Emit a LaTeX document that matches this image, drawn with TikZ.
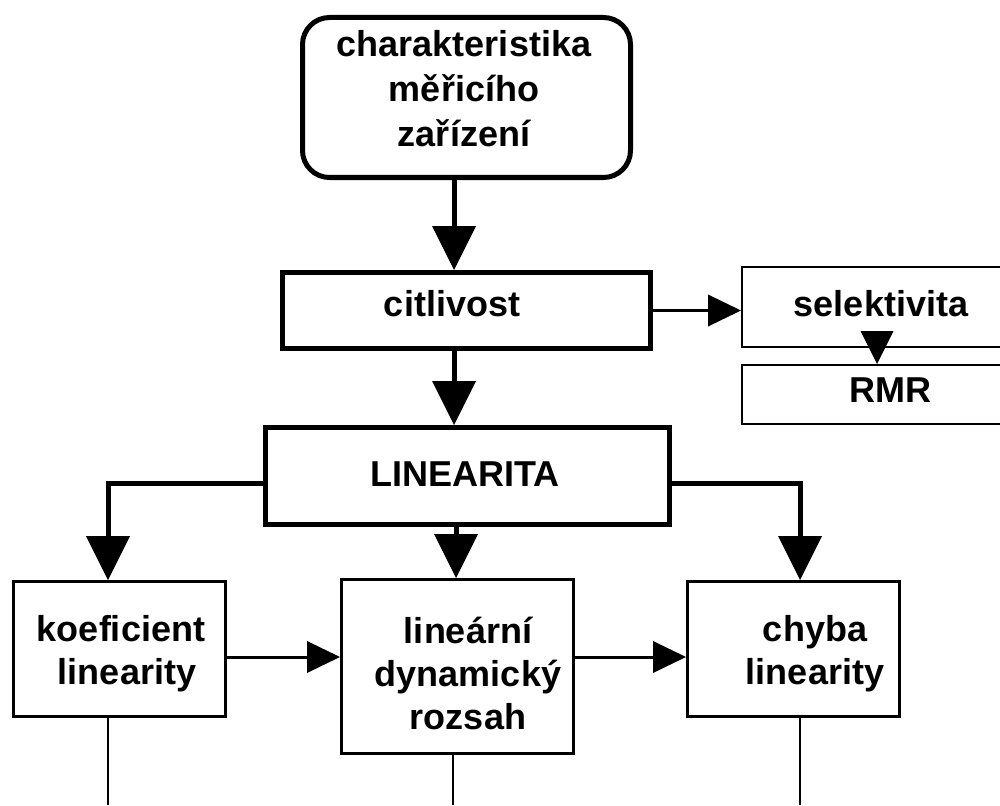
\documentclass[tikz,border=0pt]{standalone}
\usepackage{fontspec}
\setmainfont{Liberation Sans}
\usetikzlibrary{arrows.meta}
\begin{document}
\begin{tikzpicture}[x=1pt,y=-1pt,
  every node/.style={font=\fontsize{36}{43}\selectfont\bfseries, align=center, inner sep=0pt},
  heavybox/.style={draw, line width=5pt, anchor=north west},
  lightbox/.style={draw, line width=2.6pt, anchor=north west},
  label/.style={text=black},
  bigarrow/.style={line width=5pt, -{Triangle[length=44pt,width=44pt,line width=0pt]}},
  thinarrow/.style={line width=3pt, -{Triangle[length=33pt,width=32pt,line width=0pt]}},
  lead/.style={line width=2.6pt}]
\useasboundingbox (0,0) rectangle (1000,805);

% boxes
\node[heavybox, rounded corners=27pt, minimum width=328pt, minimum height=160pt] (top) at (300,15) {};
\node[heavybox, minimum width=368pt, minimum height=76pt] (cit) at (280,270) {};
\node[lightbox, line width=2.2pt, minimum width=280pt, minimum height=80pt] (sel) at (741,266) {};
\node[lightbox, line width=2.2pt, minimum width=280pt, minimum height=59pt] (rmr) at (741,364) {};
\node[heavybox, minimum width=404pt, minimum height=97pt] (lin) at (263,425) {};
\node[lightbox, minimum width=212pt, minimum height=135pt] (kof) at (12,580) {};
\node[lightbox, minimum width=232pt, minimum height=174pt] (ldr) at (340,578) {};
\node[lightbox, minimum width=212pt, minimum height=135pt] (chy) at (686,580) {};

% texts
\node[label, font=\fontsize{36}{45}\selectfont\bfseries] (tTop) at (464,89) {charakteristika\\měřicího\\zařízení};
\node[label] (tCit) at (452,304) {citlivost};
\node[label] (tSel) at (881,304) {selektivita};
\node[label] (tRmr) at (890,390) {RMR};
\node[label] (tLin) at (465,474) {LINEARITA};
\node[label] (tKof) at (121,654) {koeficient\\\hspace*{12pt}linearity};
\node[label] (tLdr) at (468,673) {lineární\\dynamický\\rozsah};
\node[label] (tChy) at (815,654) {chyba\\linearity};

% guide coordinates for the connectors
\coordinate (xMain) at (454,0);
\coordinate (xMid) at (456,0);
\coordinate (xLeft) at (108,0);
\coordinate (xRight) at (800,0);
\coordinate (xSel) at (877,0);
\coordinate (ySplit) at (0,483);
\coordinate (yRow) at (0,657);
\coordinate (selTail) at (877,332);
\coordinate (endLeft) at (108,805);
\coordinate (endMid) at (453,805);
\coordinate (endRight) at (800,805);
\coordinate (midStart) at (453,754);

% connectors
\draw[bigarrow] (top.south -| xMain) -- (cit.north -| xMain);
\draw[bigarrow] (cit.south -| xMain) -- (lin.north -| xMain);
\draw[thinarrow] (cit.east) -- (sel.west |- cit.east);
\draw[-{Triangle[length=33pt,width=33pt,line width=0pt]}] (selTail) -- (rmr.north -| xSel);
\draw[bigarrow] (lin.south -| xMid) -- (ldr.north -| xMid);
\draw[bigarrow] (lin.west |- ySplit) -| (kof.north -| xLeft);
\draw[bigarrow] (lin.east |- ySplit) -| (chy.north -| xRight);
\draw[thinarrow] (kof.east |- yRow) -- (ldr.west |- yRow);
\draw[thinarrow] (ldr.east |- yRow) -- (chy.west |- yRow);
\draw[lead] (kof.south -| xLeft) -- (endLeft);
\draw[lead] (midStart) -- (endMid);
\draw[lead] (chy.south -| xRight) -- (endRight);
\end{tikzpicture}
\end{document}
